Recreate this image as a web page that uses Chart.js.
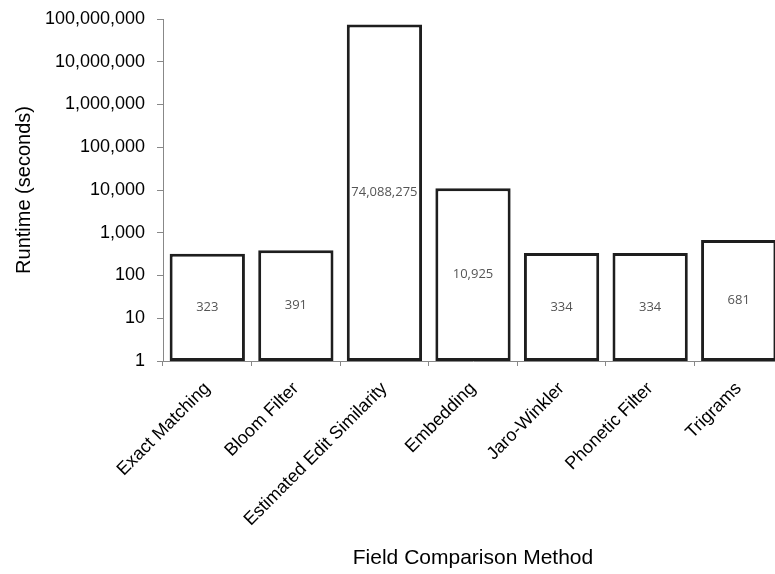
<!DOCTYPE html>
<html>
<head>
<meta charset="utf-8">
<script src="https://cdn.jsdelivr.net/npm/chart.js@4/dist/chart.umd.min.js"></script>
<style>
  html, body { margin: 0; padding: 0; background: #fff; overflow: hidden; }
  #wrap { width: 785px; height: 574px; }
</style>
</head>
<body>
<div id="wrap"><canvas id="chart" width="785" height="574"></canvas></div>
<script>
// Runtime per field comparison method (seconds)
const methods = ['Exact Matching', 'Bloom Filter', 'Estimated Edit Similarity', 'Embedding', 'Jaro-Winkler', 'Phonetic Filter', 'Trigrams'];
const runtimes = [323, 391, 74088275, 10925, 334, 334, 681];
const yTicks = [1, 10, 100, 1000, 10000, 100000, 1000000, 10000000, 100000000];

const fmt = v => Number(v).toLocaleString('en-US');

// value labels drawn in the middle of each bar
const barLabels = {
  id: 'barLabels',
  afterDatasetsDraw(chart) {
    const ctx = chart.ctx;
    const meta = chart.getDatasetMeta(0);
    ctx.save();
    ctx.font = '13px "Open Sans"';
    ctx.fillStyle = '#555';
    ctx.textAlign = 'center';
    ctx.textBaseline = 'middle';
    meta.data.forEach((bar, i) => {
      ctx.fillText(fmt(runtimes[i]), bar.x, (bar.y + bar.base) / 2);
    });
    ctx.restore();
  }
};

new Chart(document.getElementById('chart').getContext('2d'), {
  type: 'bar',
  data: {
    labels: methods,
    datasets: [{
      data: runtimes,
      backgroundColor: '#fff',
      borderColor: '#1e1e1e',
      borderWidth: 3,
      borderSkipped: false,
      barPercentage: 0.85,
      categoryPercentage: 1
    }]
  },
  options: {
    responsive: false,
    animation: false,
    layout: { padding: { top: 19, right: 2, bottom: 0, left: 0 } },
    plugins: {
      legend: { display: false },
      tooltip: { enabled: false }
    },
    scales: {
      x: {
        grid: { drawOnChartArea: false, drawTicks: true, tickLength: 5, color: '#888', offset: true },
        border: { display: true, color: '#888' },
        ticks: {
          color: '#000',
          font: { family: '"Liberation Sans", Arial', size: 18 },
          minRotation: 45,
          maxRotation: 45,
          autoSkip: false,
          padding: 12
        },
        title: {
          display: true,
          text: 'Field Comparison Method',
          color: '#000',
          font: { family: '"Liberation Sans", Arial', size: 21 },
          padding: { top: 0, bottom: 3 }
        },
        afterFit: s => { s.height = 574 - 361; }
      },
      y: {
        type: 'logarithmic',
        min: 1,
        max: 100000000,
        grid: { drawOnChartArea: false, drawTicks: true, tickLength: 6, color: '#888' },
        border: { display: true, color: '#888' },
        afterBuildTicks: s => { s.ticks = yTicks.map(v => ({ value: v })); },
        ticks: {
          color: '#000',
          font: { family: '"Liberation Sans", Arial', size: 18 },
          padding: 12,
          callback: v => fmt(v)
        },
        title: {
          display: true,
          text: 'Runtime (seconds)',
          color: '#000',
          font: { family: '"Liberation Sans", Arial', size: 20 },
          padding: { top: 12, bottom: 0 }
        },
        afterFit: s => {
          s.width = 163;
          s.paddingTop = 0;
          s.paddingBottom = 0;
        }
      }
    }
  },
  plugins: [barLabels]
});
</script>
</body>
</html>
